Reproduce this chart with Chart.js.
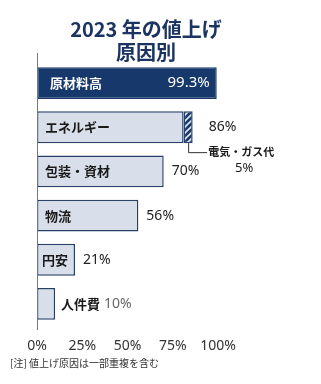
<!DOCTYPE html>
<html>
<head>
<meta charset="utf-8">
<script src="https://cdn.jsdelivr.net/npm/chart.js@4"></script>
<style>
  html, body { margin: 0; padding: 0; background: #fff; }
  #wrap { width: 321px; height: 384px; position: relative; }
</style>
</head>
<body>
<div id="wrap"><canvas id="chart" width="321" height="384"></canvas></div>
<script>
// values
const titleLines = ['2023 年の値上げ', '原因別'];
const categories = ['原材料高', 'エネルギー', '包装・資材', '物流', '円安', '人件費'];
const totalShare = [99.3, 86, 70, 56, 21, 10];
const subShare = [0, 5, 0, 0, 0, 0];   // hatched part (電気・ガス代)
const subLabel = '電気・ガス代';
const tickValues = [0, 25, 50, 75, 100];
const noteText = '[注] 値上げ原因は一部重複を含む';

const NAVY = '#17386b';
const LIGHT = '#d9dfea';
const EDGE = '#2b4068';
const JP = '"Noto Sans CJK JP", "Noto Sans", sans-serif';

let baseShare = totalShare.map((t, i) => t - subShare[i]);

function hatch() {
    let c = document.createElement('canvas');
    c.width = 6; c.height = 6;
    let g = c.getContext('2d');
    g.fillStyle = NAVY;
    g.fillRect(0, 0, 6, 6);
    g.strokeStyle = '#e4e9f2';
    g.lineWidth = 1.6;
    g.beginPath();
    g.moveTo(-1, 7); g.lineTo(7, -1);
    g.moveTo(-4, 4); g.lineTo(4, -4);
    g.moveTo(2, 10); g.lineTo(10, 2);
    g.stroke();
    return g.createPattern(c, 'repeat');
}

const labelsPlugin = {
    id: 'labels',
    afterDatasetsDraw(chart) {
        let ctx = chart.ctx;
        let x = chart.scales.x;
        let y = chart.scales.y;
        let area = chart.chartArea;
        ctx.save();

        // axis line
        ctx.strokeStyle = '#777';
        ctx.lineWidth = 1;
        ctx.beginPath();
        ctx.moveTo(area.left + 0.5, area.top - 8);
        ctx.lineTo(area.left + 0.5, area.bottom + 4);
        ctx.stroke();

        ctx.textBaseline = 'middle';
        categories.forEach((name, i) => {
            let cy = y.getPixelForValue(i);
            let left = x.getPixelForValue(0);
            let end = x.getPixelForValue(totalShare[i]);
            let value = totalShare[i] + '%';
            ctx.font = 'bold 13px ' + JP;
            let w = ctx.measureText(name).width;

            if (i === 0) {
                ctx.fillStyle = '#fff';
                ctx.textAlign = 'left';
                ctx.fillText(name, left + 13, cy);
                ctx.font = '15px "Noto Sans", sans-serif';
                ctx.textAlign = 'right';
                ctx.fillText(value, end - 7, cy);
                return;
            }
            ctx.textAlign = 'left';
            ctx.fillStyle = '#1a1a1a';
            if (w + 10 < end - left) {
                let pad = (end - left) - w < 20 ? 5 : 8;
                ctx.fillText(name, left + pad, cy);
                ctx.font = '14px "Noto Sans", sans-serif';
                ctx.fillStyle = '#222';
                ctx.fillText(value, end + (subShare[i] ? 16 : 8), cy);
            } else {
                ctx.fillText(name, end + 6, cy);
                ctx.font = '14px "Noto Sans", sans-serif';
                ctx.fillStyle = '#666';
                ctx.fillText(value, end + 6 + w + 4, cy);
            }

            if (subShare[i]) {
                let meta = chart.getDatasetMeta(1).data[i];
                let mx = x.getPixelForValue(baseShare[i] + subShare[i] / 2);
                let by = meta.y + meta.height / 2;
                ctx.strokeStyle = '#333';
                ctx.lineWidth = 1;
                ctx.beginPath();
                ctx.moveTo(mx + 0.5, by);
                ctx.lineTo(mx + 0.5, by + 9.5);
                ctx.lineTo(mx + 19, by + 9.5);
                ctx.stroke();
                ctx.fillStyle = '#1a1a1a';
                ctx.font = 'bold 11px ' + JP;
                ctx.textAlign = 'left';
                ctx.fillText(subLabel, mx + 20, by + 9);
                ctx.font = '13px "Noto Sans", sans-serif';
                ctx.textAlign = 'center';
                ctx.fillText(subShare[i] + '%', mx + 56, by + 25);
            }
        });

        // title
        ctx.fillStyle = '#1b3461';
        ctx.textAlign = 'center';
        ctx.font = 'bold 20px ' + JP;
        ctx.fillText(titleLines[0], 146, 29);
        ctx.fillText(titleLines[1], 146, 52);

        // note
        ctx.fillStyle = '#333';
        ctx.textAlign = 'left';
        ctx.font = '10px ' + JP;
        ctx.fillText(noteText, 10, 363);
        ctx.restore();
    }
};

new Chart(document.getElementById('chart'), {
    type: 'bar',
    data: {
        labels: categories,
        datasets: [{
            data: baseShare,
            backgroundColor: categories.map((c, i) => i === 0 ? NAVY : LIGHT),
            borderColor: categories.map((c, i) => i === 0 ? NAVY : EDGE),
            borderWidth: 1.5,
            borderSkipped: false
        }, {
            data: subShare,
            backgroundColor: hatch(),
            borderColor: EDGE,
            borderWidth: 1.5,
            borderSkipped: false
        }]
    },
    options: {
        indexAxis: 'y',
        responsive: false,
        animation: false,
        events: [],
        barPercentage: 0.72,
        categoryPercentage: 1,
        layout: { padding: { left: 37, right: 103, top: 61, bottom: 30 } },
        plugins: { legend: { display: false }, tooltip: { enabled: false } },
        scales: {
            x: {
                stacked: true,
                min: 0,
                max: 100,
                afterBuildTicks: axis => { axis.ticks = tickValues.map(v => ({ value: v })); },
                afterFit: axis => { axis.height = 28; },
                ticks: {
                    callback: v => v + '%',
                    color: '#333',
                    padding: 12,
                    maxRotation: 0,
                    font: { size: 14, family: '"Noto Sans", sans-serif' }
                },
                grid: { display: false, drawTicks: false },
                border: { display: false }
            },
            y: {
                stacked: true,
                afterFit: axis => { axis.width = 0; },
                ticks: { display: false },
                grid: { display: false },
                border: { display: false }
            }
        }
    },
    plugins: [labelsPlugin]
});
</script>
</body>
</html>
